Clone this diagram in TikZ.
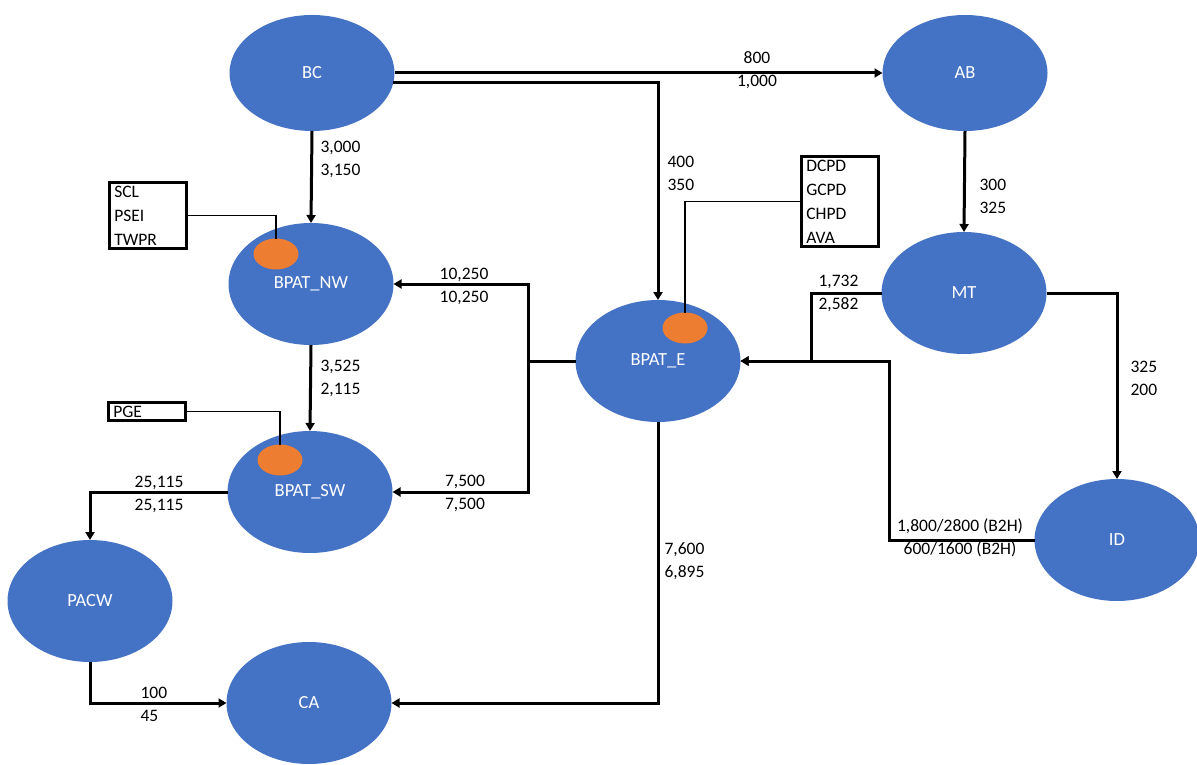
\documentclass[tikz,border=0pt]{standalone}
\usepackage{fontspec}
\setmainfont{Carlito}
\usetikzlibrary{shapes.geometric,arrows.meta}
\definecolor{zoneblue}{HTML}{4472C4}
\definecolor{hubfill}{HTML}{ED7D31}

\begin{document}
\begin{tikzpicture}[x=1pt, y=-1pt,
  zone/.style={ellipse, fill=zoneblue, text=white, minimum width=165pt, minimum height=122pt, inner sep=0pt, outer sep=0pt, font=\fontsize{18.5}{21}\selectfont},
  hub/.style={ellipse, fill=hubfill, minimum width=45pt, minimum height=31pt, inner sep=0pt, outer sep=0pt},
  keybox/.style={draw, line width=2.6pt, anchor=north west, align=left, text width=67pt, inner xsep=5pt, inner ysep=3.5pt, font=\fontsize{17.5}{24}\selectfont},
  flow/.style={align=left, font=\fontsize{17.5}{23}\selectfont},
  arrow/.style={-{Triangle[length=8pt,width=9pt]}, line width=3pt},
  link/.style={line width=1.4pt}
]
\useasboundingbox (0,0) rectangle (1197,765);

% Regions
\node[zone, minimum height=116pt] (bc) at (312, 73) {BC};
\node[zone, minimum height=116pt] (ab) at (965, 73) {AB};
\node[zone] (bpatnw) at (311, 284) {BPAT\_NW};
\node[zone] (bpate) at (658, 361) {BPAT\_E};
\node[zone] (mt) at (964, 293) {MT};
\node[zone] (id) at (1117, 540) {ID};
\node[zone] (bpatsw) at (310, 492) {BPAT\_SW};
\node[zone] (pacw) at (90, 601) {PACW};
\node[zone] (ca) at (309, 703) {CA};

% Balancing authorities inside the regions
\node[hub] (hubnw) at (276, 254) {};
\node[hub] (hube) at (685, 328) {};
\node[hub] (hubsw) at (280, 460) {};
\node[keybox] (boxnw) at (108, 181) {SCL\\PSEI\\TWPR};
\node[keybox] (boxe) at (800, 155) {DCPD\\GCPD\\CHPD\\AVA};
\node[keybox] (boxsw) at (107, 401) {PGE};
\draw[link] (boxnw.east) -| (hubnw.north);
\draw[link] (boxe.west) -| (hube.north);
\draw[link] (boxsw.east) -| (hubsw.north);

% Junctions
\coordinate (jw) at (528, 361);
\coordinate (je) at (811, 361);
\coordinate (ke) at (889, 361);

% Transfers
\draw[arrow] (bc.east) -- (ab.west);
\draw[arrow] (bc.-7) -| (bpate.north);
\draw[arrow] (bc.south) -- (bpatnw.north);
\draw[arrow] (ab.south) -- (mt.north);
\draw[arrow] (mt.east) -| (id.north);
\draw[arrow] (mt.west) -| (je) -- (bpate.east);
\draw[arrow] (id.west) -| (ke) -- (bpate.east);
\draw[arrow] (bpate.west) -- (jw) |- (bpatnw.east);
\draw[arrow] (bpate.west) -- (jw) |- (bpatsw.east);
\draw[arrow] (bpatnw.south) -- (bpatsw.north);
\draw[arrow] (bpatsw.west) -| (pacw.north);
\draw[arrow] (pacw.south) |- (ca.west);
\draw[arrow] (bpate.south) |- (ca.east);

% Transfer limits
\node[flow, align=center] (vbcab) at (757, 70) {800\\1,000};
\node[flow, anchor=west] (vbcnw) at (317, 159) {3,000\\3,150};
\node[flow, anchor=west] (vbce) at (664, 173) {400\\350};
\node[flow, anchor=west] (vabmt) at (976, 196) {300\\325};
\node[flow, anchor=west] (vmtid) at (1127, 378) {325\\200};
\node[flow, anchor=west] (vmte) at (815, 293) {1,732\\2,582};
\node[flow, align=center] (venw) at (464, 286) {10,250\\10,250};
\node[flow, anchor=west] (vnwsw) at (317, 378) {3,525\\2,115};
\node[flow, align=center] (vesw) at (465, 493) {7,500\\7,500};
\node[flow, align=center] (vswpacw) at (159, 494) {25,115\\25,115};
\node[flow, anchor=west] (veca) at (661, 561) {7,600\\6,895};
\node[flow, align=center] (vide) at (960, 538) {1,800/2800 (B2H)\\600/1600 (B2H)};
\node[flow, anchor=west] (vpacwca) at (137, 704) {100\\45};
\end{tikzpicture}
\end{document}
